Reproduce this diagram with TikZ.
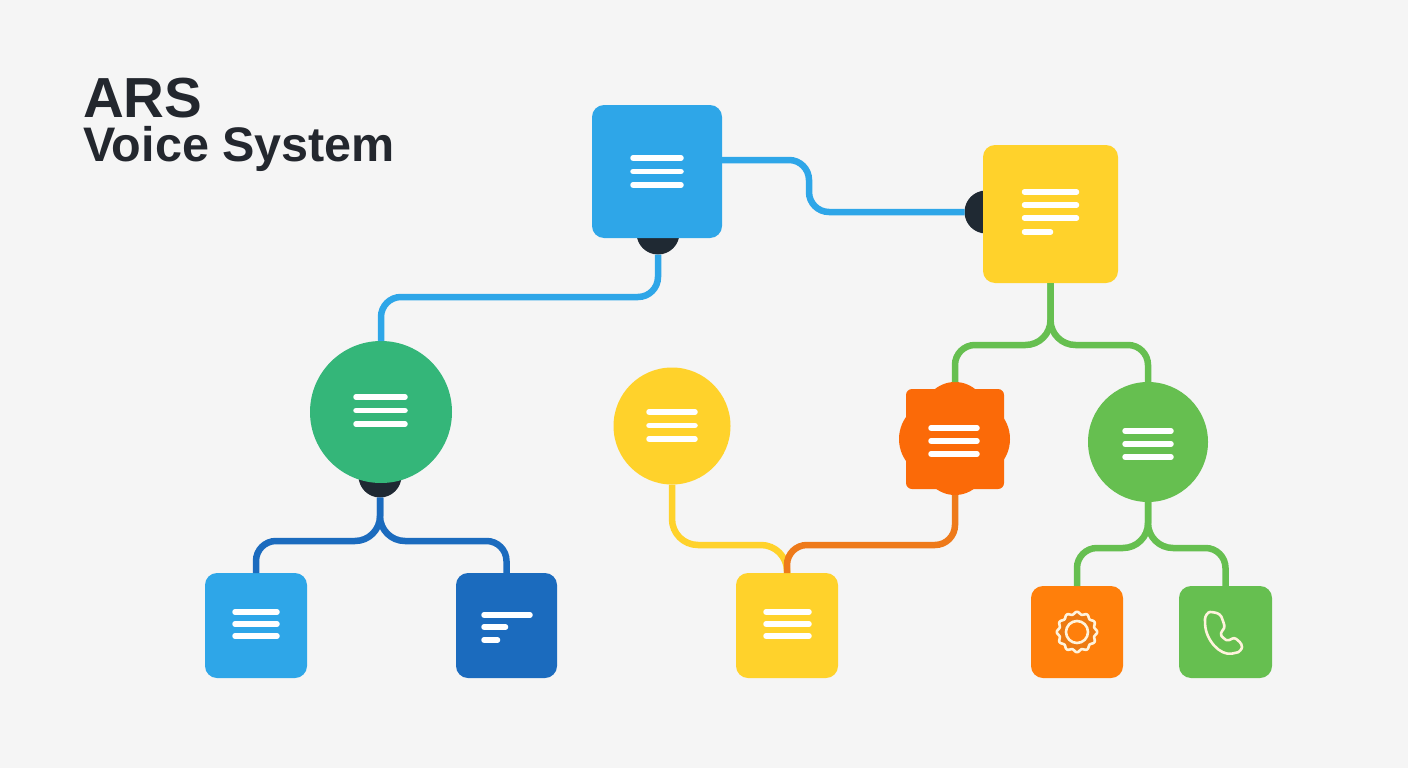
\documentclass[tikz,border=0pt]{standalone}
\usepackage{fontspec}
\setmainfont{Liberation Sans}
\definecolor{bgc}{HTML}{F5F5F5}
\definecolor{bluec}{HTML}{2EA6E8}
\definecolor{dblue}{HTML}{1B6BBE}
\definecolor{yell}{HTML}{FFD22B}
\definecolor{gdark}{HTML}{34B679}
\definecolor{glite}{HTML}{66BF50}
\definecolor{orA}{HTML}{FB6A08}
\definecolor{orB}{HTML}{FF7F0B}
\definecolor{orC}{HTML}{EC7A12}
\definecolor{orL}{HTML}{EE7A1A}
\definecolor{ink}{HTML}{23272E}
\definecolor{knobc}{HTML}{1F2933}
\definecolor{ivory}{HTML}{FFF3DC}
\tikzset{
  x=1pt,y=-1pt,
  boxn/.style={rectangle,rounded corners=12pt,inner sep=0pt,outer sep=0pt,fill=#1},
  circn/.style={circle,inner sep=0pt,outer sep=0pt,fill=#1},
  knob/.style={circle,inner sep=0pt,outer sep=0pt,fill=knobc,minimum size=43pt},
  link/.style={draw=#1,line width=6.5pt,rounded corners=20pt},
  bar/.style={draw=white,line width=5.5pt,line cap=round},
  thin icon/.style={draw=ivory,line width=2.6pt,line join=round},
  title/.style={anchor=base west,inner sep=0pt,text=ink,font=\bfseries}
}
\newcommand{\threebars}[4]{% x1,x2,y1,step
  \draw[bar] (#1,#3) -- (#2,#3);
  \draw[bar] (#1,#3+#4) -- (#2,#3+#4);
  \draw[bar] (#1,#3+2*#4) -- (#2,#3+2*#4);
}
\begin{document}
\begin{tikzpicture}
\useasboundingbox (0,0) rectangle (1408,768);
\fill[bgc] (0,0) rectangle (1408,768);
% title
\node[title,font=\bfseries\fontsize{56.5}{56.5}\selectfont] (t1) at (83,117) {ARS};
\node[title,font=\bfseries\fontsize{48.5}{48.5}\selectfont] (t2) at (83,161) {Voice System};
% knobs
\node[knob] (k1) at (658,233) {};
\node[knob] (k2) at (986,212) {};
\node[knob] (k3) at (380,476) {};
% nodes
\node[boxn=bluec,minimum width=130pt,minimum height=133pt] (n1) at (657,171.5) {};
\node[boxn=yell,minimum width=135pt,minimum height=138pt] (n2) at (1050.5,214) {};
\node[circn=gdark,minimum size=142pt] (n3) at (381,412) {};
\node[circn=yell,minimum size=117pt] (n4) at (672,426) {};
\node[circn=orA,minimum size=64pt] (n5t) at (955,414) {};
\node[circn=orA,minimum size=64pt] (n5s) at (955,463) {};
\node[circn=orA,minimum size=76pt] (n5w) at (937,439) {};
\node[circn=orA,minimum size=76pt] (n5e) at (972,439) {};
\node[rectangle,rounded corners=6pt,fill=orA,inner sep=0pt,minimum width=98pt,minimum height=100pt] (n5b) at (955,439) {};
\node[circn=glite,minimum size=120pt] (n6) at (1148,442) {};
\node[boxn=bluec,minimum width=102pt,minimum height=105pt] (n7) at (256,625.5) {};
\node[boxn=dblue,minimum width=101pt,minimum height=105pt] (n8) at (506.5,625.5) {};
\node[boxn=yell,minimum width=102pt,minimum height=105pt] (n9) at (787,625.5) {};
\node[boxn=orB,minimum width=92pt,minimum height=92pt] (n10) at (1077,632) {};
\node[boxn=glite,minimum width=93pt,minimum height=92pt] (n11) at (1225.5,632) {};
% connectors
\draw[link=bluec] (n1.east |- 0,160) -- (809,160) -- (809,212) -- (k2.west);
\draw[link=bluec] (k1.south) -- (k1.south |- 0,297) -- (n3.north |- 0,297) -- (n3.north);
\draw[link=glite] (n2.south) [rounded corners=25pt] -- (n2.south |- 0,345) [rounded corners=20pt] -- (n5t.north |- 0,345) -- (n5t.north);
\draw[link=glite] (n2.south) [rounded corners=25pt] -- (n2.south |- 0,345) [rounded corners=20pt] -- (n6.north |- 0,345) -- (n6.north);
\draw[link=dblue] (k3.south) [rounded corners=25pt] -- (k3.south |- 0,541) [rounded corners=20pt] -- (n7.north |- 0,541) -- (n7.north);
\draw[link=dblue] (k3.south) [rounded corners=25pt] -- (k3.south |- 0,541) [rounded corners=20pt] -- (n8.north |- 0,541) -- (n8.north);
\draw[link=glite] (n6.south) [rounded corners=25pt] -- (n6.south |- 0,548) [rounded corners=20pt] -- (n10.north |- 0,548) -- (n10.north);
\draw[link=glite] (n6.south) [rounded corners=25pt] -- (n6.south |- 0,548) [rounded corners=20pt] -- (n11.north |- 0,548) -- (n11.north);
\draw[link=yell,rounded corners=26pt] (n4.south) -- (n4.south |- 0,545) -- (n9.north |- 0,545) -- (n9.north);
\draw[link=orL] (n5s.south) -- (n5s.south |- 0,545) -- (n9.north |- 0,545) -- (n9.north);
% icons
\threebars{633}{681}{158}{13.5}
\draw[bar] (1024.5,192) -- (1076.5,192);
\draw[bar] (1024.5,205) -- (1076.5,205);
\draw[bar] (1024.5,218) -- (1076.5,218);
\draw[bar] (1024.5,232) -- (1050.5,232);
\threebars{356}{405}{397}{13.5}
\threebars{649}{695}{412}{13.5}
\threebars{931}{977}{428}{13}
\threebars{1125}{1171}{431}{13}
\threebars{235}{277}{612}{12}
\threebars{766}{809}{612}{12}
\draw[bar] (484,615) -- (530,615);
\draw[bar] (484,627) -- (505.5,627);
\draw[bar] (484,640) -- (497.5,640);
% gear
\draw[thin icon,fill=orC] plot[domain=0:357,samples=120,smooth cycle] ({1077+(19+1.2*cos(12*\x))*cos(\x)},{632+(19+1.2*cos(12*\x))*sin(\x)});
\draw[thin icon,fill=orB] (n10.center) circle[radius=11];
% phone
\draw[thin icon,rounded corners=3pt] (1205,622) .. controls (1205,616) and (1208,612) .. (1213,612) -- (1220,614) .. controls (1222,618) and (1224,624) .. (1225,628) -- (1220,633) .. controls (1222,637) and (1226,640) .. (1229,641) -- (1234,637) -- (1242,644) .. controls (1242,649) and (1239,652) .. (1235,653) .. controls (1220,656) and (1206,640) .. (1205,622) -- cycle;
\end{tikzpicture}
\end{document}
